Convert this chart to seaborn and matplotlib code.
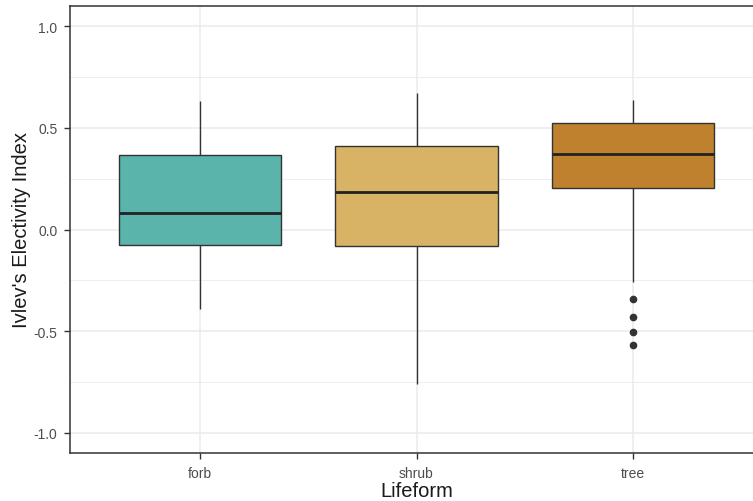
import numpy as np
import pandas as pd
import matplotlib
matplotlib.use("Agg")
import matplotlib.pyplot as plt
from matplotlib.ticker import MultipleLocator
import seaborn as sns

# Five-number summaries per lifeform (Ivlev's electivity index)
lifeforms = ["forb", "shrub", "tree"]
whisker_low = [-0.391, -0.762, -0.258]
q1 = [-0.075, -0.083, 0.206]
median = [0.080, 0.184, 0.372]
q3 = [0.367, 0.411, 0.522]
whisker_high = [0.633, 0.670, 0.637]
outliers = {"forb": [], "shrub": [], "tree": [-0.569, -0.504, -0.432, -0.342]}
fill_colors = ["#5ab4ac", "#d8b365", "#bf812d"]

# Observations whose quartiles and whisker ends reproduce the summaries above
rows = []
for i, lf in enumerate(lifeforms):
    vals = (list(outliers[lf]) + [whisker_low[i]] + [q1[i]] * 5
            + [median[i]] * 5 + [q3[i]] * 5 + [whisker_high[i]])
    rows += [(lf, v) for v in vals]
df = pd.DataFrame(rows, columns=["Lifeform", "Electivity"])

sns.set_style("white")
plt.rcParams["font.family"] = ["Liberation Sans", "DejaVu Sans"]

fig = plt.figure(figsize=(7.53, 5.02), dpi=100)
ax = fig.add_axes([70 / 753, 48 / 502, 693 / 753, 447 / 502])

grey20 = "#333333"
sns.boxplot(
    data=df, x="Lifeform", y="Electivity", hue="Lifeform",
    order=lifeforms, hue_order=lifeforms, palette=fill_colors,
    saturation=1, width=0.75, linewidth=1.0, linecolor=grey20,
    whis=1.5, showcaps=False, legend=False, ax=ax,
    medianprops=dict(color="#222222", linewidth=2.0),
    flierprops=dict(marker="o", markersize=4.5, markerfacecolor=grey20,
                    markeredgecolor=grey20),
    zorder=3,
)

ax.set_xlim(-0.6, 2.6)
ax.set_ylim(-1.1, 1.1)
ax.yaxis.set_major_locator(MultipleLocator(0.5))
ax.yaxis.set_minor_locator(MultipleLocator(0.25))
ax.set_yticks([-1.0, -0.5, 0.0, 0.5, 1.0])
ax.set_yticklabels(["-1.0", "-0.5", "0.0", "0.5", "1.0"])

ax.grid(True, which="major", color="#ebebeb", linewidth=1.1)
ax.grid(True, which="minor", axis="y", color="#ebebeb", linewidth=0.6)
ax.set_axisbelow(True)

for side in ax.spines.values():
    side.set_color(grey20)
    side.set_linewidth(1.1)

ax.tick_params(axis="both", which="major", length=4, width=1.0, color=grey20,
               labelcolor="#4d4d4d", labelsize=10)
ax.tick_params(axis="x", which="major", pad=5.5)
ax.tick_params(axis="y", which="major", pad=5)
ax.tick_params(axis="y", which="minor", length=0)
ax.tick_params(bottom=True, left=True)

ax.set_xlabel("Lifeform", fontsize=14.5, color="#1a1a1a", labelpad=0.5)
ax.set_ylabel("Ivlev's Electivity Index", fontsize=14.5, color="#1a1a1a", labelpad=2)

fig.savefig("out.png", dpi=100)
